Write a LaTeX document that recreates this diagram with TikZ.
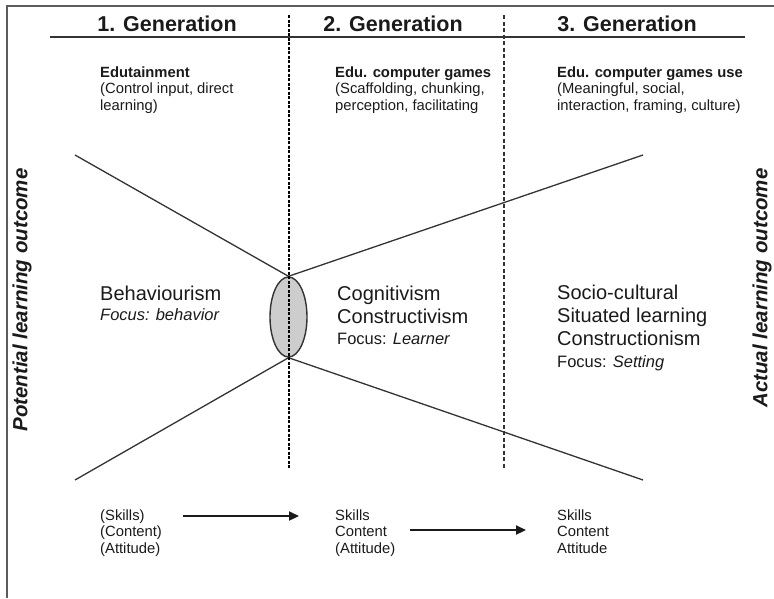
\documentclass[tikz,border=0pt]{standalone}
\usepackage{fontspec}
\setmainfont{Liberation Sans}
\usetikzlibrary{arrows.meta,shapes.geometric}
\newcommand{\blk}[1]{\begin{tabular}[t]{@{}l@{}}#1\end{tabular}}
\definecolor{ink}{HTML}{1A1A1A}
\definecolor{linegray}{HTML}{333333}
\definecolor{ellfill}{HTML}{CDCDCD}
\begin{document}
\begin{tikzpicture}[x=1pt,y=-1pt,
  txt/.style={inner sep=0pt, text=ink, anchor=base west},
  hdr/.style={inner sep=0pt, text=ink, anchor=base, font=\fontsize{21.5}{25}\selectfont\bfseries},
  small/.style={txt, font=\fontsize{14.8}{16.5}\selectfont},
  big/.style={txt, font=\fontsize{20}{23}\selectfont},
  focus/.style={txt, font=\fontsize{16.5}{19}\selectfont},
  side/.style={inner sep=0pt, text=ink, rotate=90, font=\fontsize{20.5}{24}\selectfont\bfseries\itshape},
  frame/.style={draw=linegray!80, line width=1.8pt},
  rule/.style={draw=linegray, line width=1.8pt},
  divA/.style={draw=black, line width=2pt, dash pattern=on 3pt off 1.5pt},
  divB/.style={draw=linegray, line width=1.2pt, dash pattern=on 4pt off 2.5pt},
  ray/.style={draw=linegray, line width=1.3pt},
  flow/.style={draw=ink, line width=2.2pt, -{Triangle[length=10pt,width=9pt]}},
  hub/.style={ellipse, draw=linegray, line width=1.4pt, fill=ellfill, minimum width=37pt, minimum height=80pt, inner sep=0pt}
]
\useasboundingbox (0,0) rectangle (774,598);
% frame (top and left)
\coordinate (fb) at (7,598);
\coordinate (fc) at (7,6);
\coordinate (fr) at (774,6);
\draw[frame] (fb) -- (fc) -- (fr);
% header rule
\coordinate (rl) at (50,37);
\coordinate (rr) at (745,37);
\draw[rule] (rl) -- (rr);
% headers
\node[hdr] (h1) at (167,31) {1. Generation};
\node[hdr] (h2) at (393,31) {2. Generation};
\node[hdr] (h3) at (627,31) {3. Generation};
% top descriptions
\node[small] (t1) at (100,77) {\blk{\textbf{Edutainment}\\(Control input, direct\\learning)}};
\node[small] (t2) at (335,77) {\blk{\textbf{Edu. computer games}\\(Scaffolding, chunking,\\perception, facilitating}};
\node[small] (t3) at (557,77) {\blk{\textbf{Edu. computer games use}\\(Meaningful, social,\\interaction, framing, culture)}};
% hub ellipse
\node[hub] (hub) at (288.5,317) {};
% rays
\coordinate (ul) at (75,155);
\coordinate (ur) at (643,155);
\coordinate (ll) at (75,480);
\coordinate (lr) at (643,480);
\draw[ray] (ul) -- (hub.north);
\draw[ray] (hub.north) -- (ur);
\draw[ray] (ll) -- (hub.south);
\draw[ray] (hub.south) -- (lr);
% dividers
\coordinate (d1t) at (288.5,15);
\coordinate (d1b) at (288.5,468);
\coordinate (d2t) at (504,15);
\coordinate (d2b) at (504,468);
\draw[divA] (d1t) -- (d1b);
\draw[divB] (d2t) -- (d2b);
% middle texts
\node[big] (m1) at (100,300) {Behaviourism};
\node[focus] (f1) at (100,320) {\itshape Focus: behavior};
\node[big] (m2a) at (337,300) {Cognitivism};
\node[big] (m2b) at (337,323) {Constructivism};
\node[focus] (f2) at (337,344) {Focus: \textit{Learner}};
\node[big] (m3a) at (557,299) {Socio-cultural};
\node[big] (m3b) at (557,322) {Situated learning};
\node[big] (m3c) at (557,345) {Constructionism};
\node[focus] (f3) at (557,367) {Focus: \textit{Setting}};
% side labels
\node[side] (sl) at (22,300) {Potential learning outcome};
\node[side] (sr) at (762,288) {Actual learning outcome};
% bottom blocks
\node[small] (b1) at (100,520) {\blk{(Skills)\\(Content)\\(Attitude)}};
\node[small] (b2) at (335,520) {\blk{Skills\\Content\\(Attitude)}};
\node[small] (b3) at (557,520) {\blk{Skills\\Content\\Attitude}};
\coordinate (a1s) at (183,516);
\coordinate (a1e) at (299,516);
\coordinate (a2s) at (410,530);
\coordinate (a2e) at (526,530);
\draw[flow] (a1s) -- (a1e);
\draw[flow] (a2s) -- (a2e);
\end{tikzpicture}
\end{document}
